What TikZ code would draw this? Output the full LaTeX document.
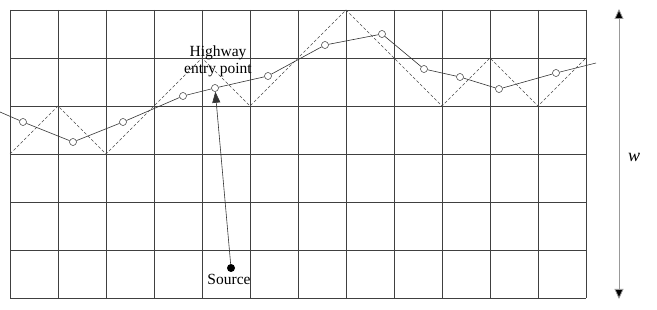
\documentclass[tikz,border=0pt]{standalone}
\usepackage{fontspec}
\setmainfont{Liberation Serif}
\usetikzlibrary{arrows.meta}
\begin{document}
\begin{tikzpicture}[x=1pt,y=-1pt,
  gridline/.style={draw=black!75,line width=0.7pt},
  zig/.style={draw=black!70,dashed,dash pattern=on 3pt off 2pt,line width=0.5pt},
  hw/.style={draw=black!80,line width=0.6pt},
  pt/.style={circle,draw=black!80,line width=0.5pt,inner sep=0pt,minimum size=7pt},
  lbl/.style={font=\fontsize{15.5}{17}\selectfont,inner sep=0pt},
  tip/.style={-{Triangle[length=11pt,width=8pt]}}]
\useasboundingbox (0,0) rectangle (657,310);
% grid
\foreach \i in {0,...,12} \draw[gridline] (10+48*\i,10) -- (10+48*\i,298);
\foreach \j in {0,...,6} \draw[gridline] (10,10+48*\j) -- (586,10+48*\j);
% dashed zigzag
\draw[zig] (10,154) -- (58,106) -- (106,154) -- (202,58) -- (250,106) -- (346,10) -- (442,106) -- (490,58) -- (538,106) -- (586,58);
% highway points
\coordinate (hs) at (0,112);
\coordinate (he) at (596,63);
\node[pt] (c1) at (23,122) {};
\node[pt] (c2) at (73,142) {};
\node[pt] (c3) at (123,122) {};
\node[pt] (c4) at (183,96) {};
\node[pt] (c5) at (215,88) {};
\node[pt] (c6) at (268,76) {};
\node[pt] (c7) at (325,45) {};
\node[pt] (c8) at (382,34) {};
\node[pt] (c9) at (424,69) {};
\node[pt] (c10) at (460,77) {};
\node[pt] (c11) at (499,89) {};
\node[pt] (c12) at (556,73) {};
\draw[hw] (hs) -- (c1) -- (c2) -- (c3) -- (c4) -- (c5) -- (c6) -- (c7) -- (c8) -- (c9) -- (c10) -- (c11) -- (c12) -- (he);
% labels
\node[lbl,align=center] (entry) at (218,61) {Highway\\entry point};
\node[circle,fill=black,inner sep=0pt,minimum size=8pt] (src) at (231,268) {};
\node[lbl,anchor=north] (srclbl) at (229,274) {Source};
\draw[black!80,line width=0.6pt,tip] (src) -- (c5);
% width arrow
\coordinate (wt) at (619,9);
\coordinate (wb) at (619,299);
\draw[black!40,line width=0.8pt,{Triangle[length=10pt,width=9pt,fill=black]}-{Triangle[length=10pt,width=9pt,fill=black]}] (wt) -- (wb);
\node[lbl,font=\fontsize{18}{20}\selectfont\itshape] (w) at (634,157) {w};
\end{tikzpicture}
\end{document}
